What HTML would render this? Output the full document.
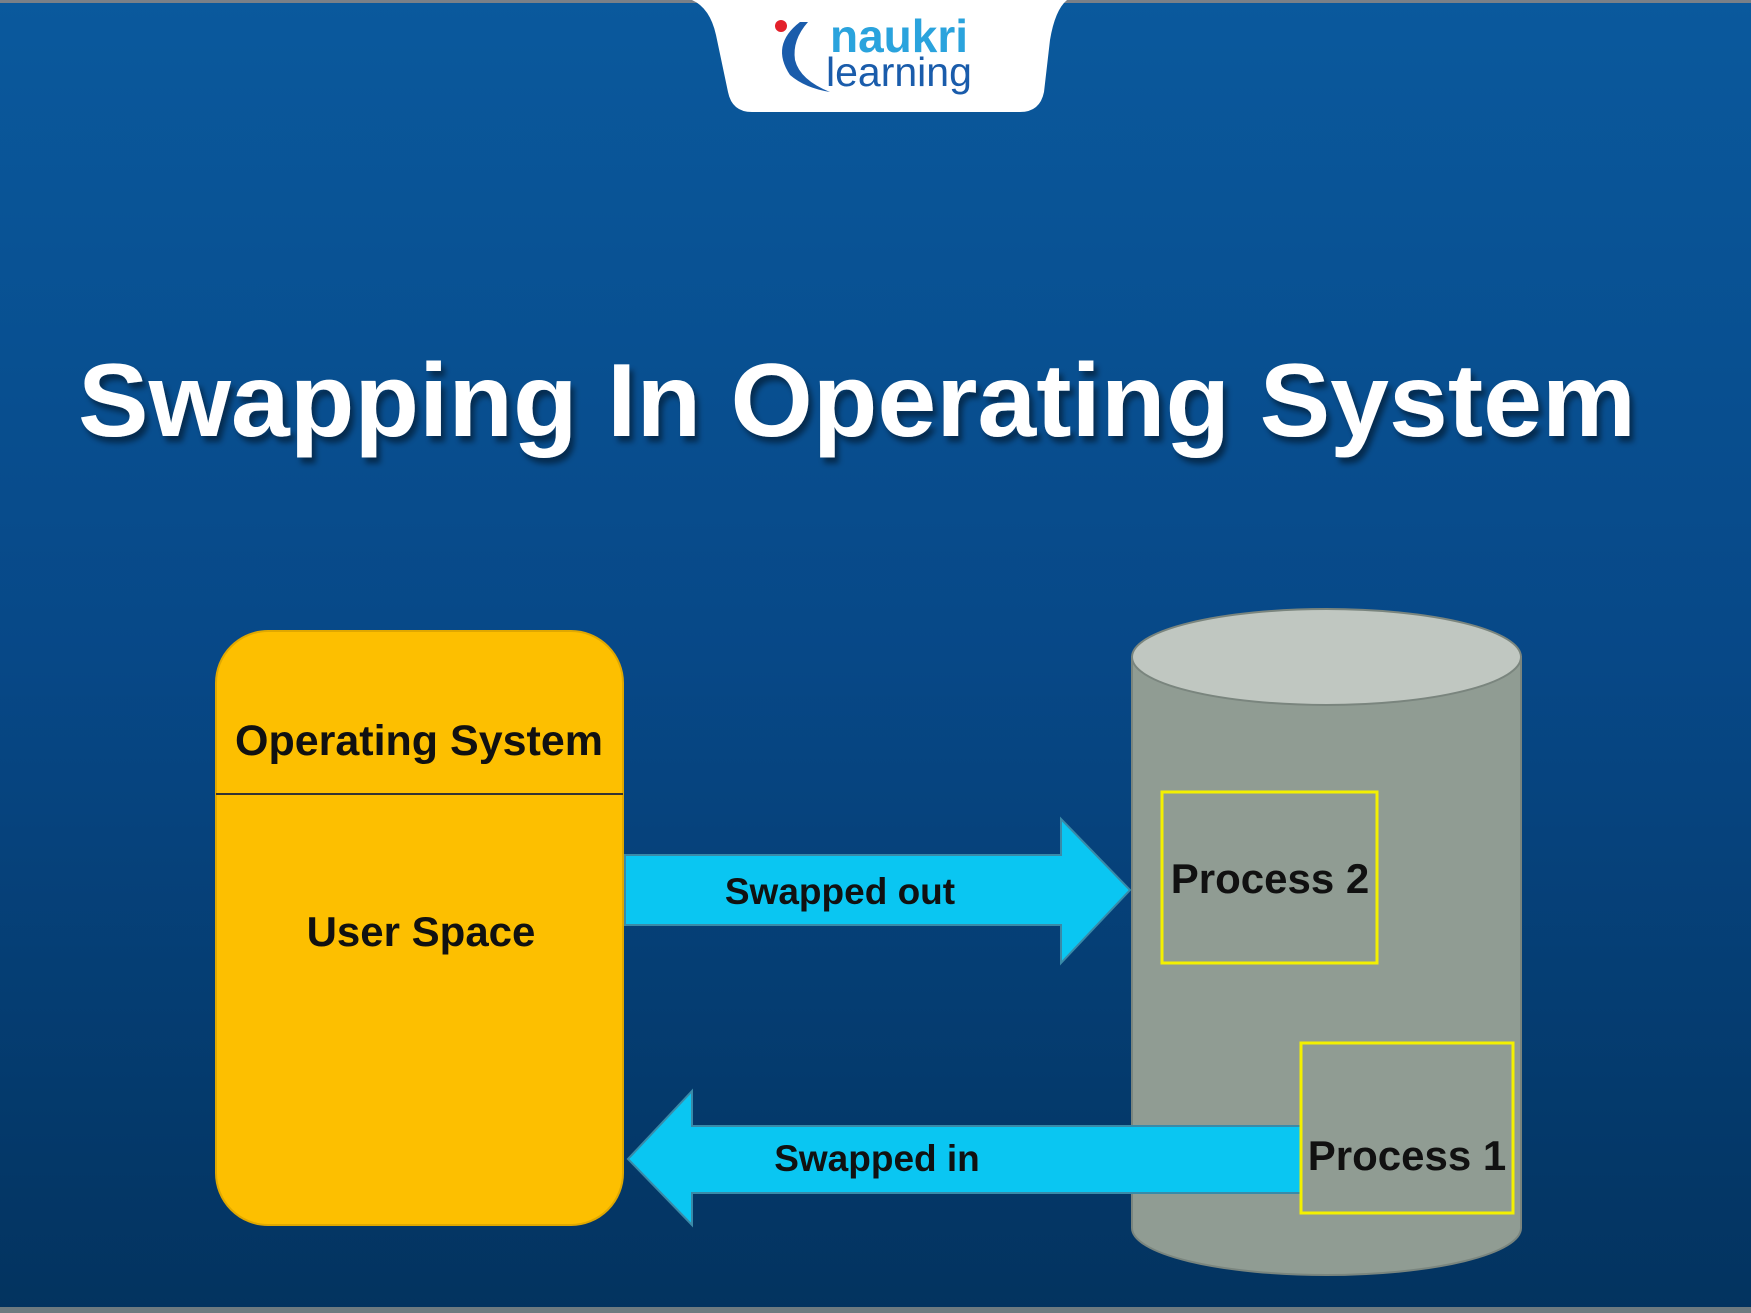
<!DOCTYPE html>
<html><head><meta charset="utf-8"><style>
html,body{margin:0;padding:0;width:1751px;height:1313px;overflow:hidden;background:#0b4f8e}
svg{display:block}
</style></head><body>
<svg width="1751" height="1313" viewBox="0 0 1751 1313" xmlns="http://www.w3.org/2000/svg">
<defs>
<linearGradient id="bg" x1="0" y1="0" x2="0" y2="1">
<stop offset="0" stop-color="#0a599d"/>
<stop offset="0.5" stop-color="#074887"/>
<stop offset="1" stop-color="#03335f"/>
</linearGradient>
<filter id="sh" x="-5%" y="-20%" width="110%" height="140%"><feDropShadow dx="4" dy="6" stdDeviation="3" flood-color="#000" flood-opacity="0.45"/></filter>
</defs>
<rect width="1751" height="1313" fill="url(#bg)"/>
<rect width="1751" height="3" fill="#7a8088"/>
<rect y="1307" width="1751" height="6" fill="#6e7a80"/>
<!-- logo tab -->
<path d="M692 0 L1067 0 Q1055 10 1050 40 L1044 92 Q1040 112 1020 112 L752 112 Q732 112 728 92 L716 35 Q710 8 692 0 Z" fill="#fff"/>
<circle cx="781" cy="26" r="6" fill="#e3202a"/>
<path d="M800 22 Q770 45 790 75 Q805 88 830 92 Q800 80 795 60 Q792 40 808 22 Z" fill="#1a5cab"/>
<text x="830" y="52" font-family="Liberation Sans, sans-serif" font-weight="bold" font-size="46" fill="#2aa3dd">naukri</text>
<text x="826" y="86" font-family="Liberation Sans, sans-serif" font-size="41" fill="#1a5cab">learning</text>
<!-- title -->
<text x="78" y="436" textLength="1558" lengthAdjust="spacingAndGlyphs" font-family="Liberation Sans, sans-serif" font-weight="bold" font-size="104" fill="#fff" filter="url(#sh)">Swapping In Operating System</text>
<!-- yellow box -->
<rect x="216" y="631" width="407" height="594" rx="52" fill="#fdbf00" stroke="#e0a800" stroke-width="2"/>
<line x1="216" y1="794" x2="623" y2="794" stroke="#333" stroke-width="2"/>
<text x="419" y="755" text-anchor="middle" font-family="Liberation Sans, sans-serif" font-weight="bold" font-size="43" fill="#111">Operating System</text>
<text x="421" y="946" text-anchor="middle" font-family="Liberation Sans, sans-serif" font-weight="bold" font-size="42" fill="#111">User Space</text>
<!-- cylinder -->
<path d="M1132 657 L1132 1228 A194.5 47 0 0 0 1521 1228 L1521 657 Z" fill="#909c93" stroke="#7a857e" stroke-width="2"/>
<ellipse cx="1326.5" cy="657" rx="194.5" ry="48" fill="#c0c7c1" stroke="#7a857e" stroke-width="2"/>
<!-- arrows -->
<path d="M625 855 L1061 855 L1061 819 L1130 890 L1061 963 L1061 925 L625 925 Z" fill="#0ac6f2" stroke="#3a8aa8" stroke-width="2"/>
<path d="M1301 1126 L692 1126 L692 1091 L628 1159 L692 1225 L692 1193 L1301 1193 Z" fill="#0ac6f2" stroke="#3a8aa8" stroke-width="2"/>
<text x="840" y="904" text-anchor="middle" font-family="Liberation Sans, sans-serif" font-weight="bold" font-size="37" fill="#111">Swapped out</text>
<text x="877" y="1171" text-anchor="middle" font-family="Liberation Sans, sans-serif" font-weight="bold" font-size="37" fill="#111">Swapped in</text>
<!-- process boxes -->
<rect x="1162" y="792" width="215" height="171" fill="none" stroke="#f3f000" stroke-width="3"/>
<text x="1270" y="893" text-anchor="middle" font-family="Liberation Sans, sans-serif" font-weight="bold" font-size="42" fill="#111">Process 2</text>
<rect x="1301" y="1043" width="212" height="170" fill="#909c93" stroke="#f3f000" stroke-width="3"/>
<text x="1407" y="1170" text-anchor="middle" font-family="Liberation Sans, sans-serif" font-weight="bold" font-size="42" fill="#111">Process 1</text>
</svg>
</body></html>
